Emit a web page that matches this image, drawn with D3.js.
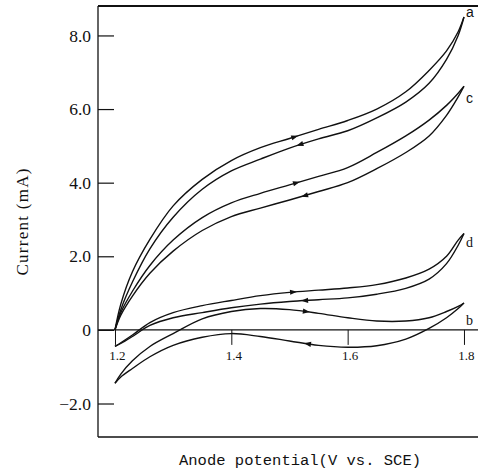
<!DOCTYPE html>
<html>
<head>
    <meta charset="utf-8" />
    <title>Cyclic voltammograms</title>
    <style>
        body { margin: 0; background: #fff; }
        svg { display: block; }
    </style>
    <script type="text/javascript" src="https://cdn.jsdelivr.net/npm/d3@7/dist/d3.min.js"></script>
</head>
<body>
    <div id="svg"></div>

    <script type="text/javascript">
        // potential grid (V vs. SCE), shared by every sweep
        var potential = [1.2, 1.21, 1.23, 1.26, 1.3, 1.35, 1.4, 1.45, 1.5, 1.55, 1.6, 1.65, 1.7, 1.74, 1.77, 1.79, 1.8];

        // current (mA), forward (anodic) and reverse sweeps
        var aForward = [0, 0.7, 1.58, 2.46, 3.37, 4.09, 4.6, 4.95, 5.2, 5.45, 5.69, 6.0, 6.47, 7.05, 7.58, 8.1, 8.5];
        var aReverse = [0, 0.55, 1.3, 2.2, 3.06, 3.82, 4.32, 4.64, 4.94, 5.19, 5.41, 5.76, 6.19, 6.7, 7.35, 8.0, 8.5];
        var cForward = [0, 0.47, 1.05, 1.75, 2.44, 3.05, 3.45, 3.71, 3.94, 4.17, 4.41, 4.82, 5.27, 5.7, 6.1, 6.43, 6.62];
        var cReverse = [0, 0.4, 0.92, 1.54, 2.14, 2.7, 3.08, 3.31, 3.53, 3.76, 4.0, 4.38, 4.82, 5.27, 5.83, 6.33, 6.62];
        var dForward = [-0.45, -0.35, -0.14, 0.2, 0.47, 0.66, 0.8, 0.93, 1.02, 1.08, 1.14, 1.23, 1.41, 1.65, 2.0, 2.44, 2.62];
        var dReverse = [-0.45, -0.37, -0.18, 0.12, 0.33, 0.47, 0.6, 0.7, 0.77, 0.82, 0.87, 0.97, 1.13, 1.38, 1.8, 2.3, 2.62];
        var bForward = [-1.45, -1.2, -0.84, -0.45, -0.1, 0.3, 0.5, 0.58, 0.55, 0.45, 0.33, 0.24, 0.24, 0.33, 0.5, 0.64, 0.73];
        var bReverse = [-1.45, -1.28, -1.05, -0.73, -0.42, -0.2, -0.1, -0.18, -0.3, -0.42, -0.47, -0.43, -0.25, 0.04, 0.33, 0.58, 0.73];

        var curveNames = ['a', 'c', 'd', 'b'];
        var forwardSweeps = [aForward, cForward, dForward, bForward];
        var reverseSweeps = [aReverse, cReverse, dReverse, bReverse];

        var yTicks = [-2, 0, 2, 4, 6, 8];
        var xTicks = [1.2, 1.4, 1.6, 1.8];

        var width = 478,
            height = 472,
            plotLeft = 98,
            plotTop = 6,
            plotBottom = 437;

        var svg = d3.select('#svg')
            .append('svg')
            .attr('width', width)
            .attr('height', height);

        var xScale = d3.scaleLinear()
            .domain([1.1708, 1.8241])
            .range([plotLeft, width]);

        var yScale = d3.scaleLinear()
            .domain([-2.91, 8.8])
            .range([plotBottom, plotTop]);

        // frame: left, top, bottom and the zero line
        var frame = svg.append('g').attr('stroke', '#111').attr('fill', 'none');
        frame.append('line').attr('x1', plotLeft).attr('x2', plotLeft).attr('y1', plotTop).attr('y2', plotBottom).attr('stroke-width', 1.3);
        frame.append('line').attr('x1', plotLeft).attr('x2', width).attr('y1', plotTop).attr('y2', plotTop).attr('stroke-width', 1.8);
        frame.append('line').attr('x1', plotLeft).attr('x2', width).attr('y1', plotBottom).attr('y2', plotBottom).attr('stroke-width', 1.5);
        frame.append('line').attr('x1', plotLeft).attr('x2', width).attr('y1', yScale(0)).attr('y2', yScale(0)).attr('stroke-width', 1.3);

        var yAxis = d3.axisLeft(yScale)
            .tickValues(yTicks)
            .tickSizeInner(-16)
            .tickSizeOuter(0)
            .tickPadding(7)
            .tickFormat(d => d === 0 ? '0' : d3.format('.1f')(d));

        var gY = svg.append('g')
            .attr('transform', 'translate(' + plotLeft + ',0)')
            .call(yAxis);
        gY.select('.domain').remove();
        gY.selectAll('line').attr('stroke', '#111').attr('stroke-width', 1.2);
        gY.selectAll('text')
            .attr('fill', '#111')
            .style('font-family', '"Liberation Serif", serif')
            .style('font-size', '17.5px');

        var xAxis = d3.axisBottom(xScale)
            .tickValues(xTicks)
            .tickSizeInner(15)
            .tickSizeOuter(0)
            .tickPadding(6)
            .tickFormat(d3.format('.1f'));

        var gX = svg.append('g')
            .attr('transform', 'translate(0,' + yScale(0) + ')')
            .call(xAxis);
        gX.select('.domain').remove();
        gX.selectAll('line').attr('stroke', '#111').attr('stroke-width', 1);
        gX.selectAll('text')
            .attr('fill', '#111')
            .attr('dx', 2)
            .style('font-family', '"Liberation Serif", serif')
            .style('font-size', '13px');

        // axis titles
        svg.append('text')
            .attr('transform', 'translate(22,222) rotate(-90)')
            .attr('text-anchor', 'middle')
            .attr('dominant-baseline', 'central')
            .attr('textLength', 107)
            .attr('fill', '#111')
            .style('font-family', '"Liberation Serif", serif')
            .style('font-size', '17px')
            .text('Current (mA)');

        svg.append('text')
            .attr('x', 300)
            .attr('y', 465)
            .attr('text-anchor', 'middle')
            .attr('textLength', 242)
            .attr('fill', '#111')
            .style('font-family', '"Liberation Mono", monospace')
            .style('font-size', '15.5px')
            .text('Anode potential(V vs. SCE)');

        var line = d3.line()
            .x(d => xScale(d[0]))
            .y(d => yScale(d[1]))
            .curve(d3.curveCatmullRom.alpha(0.5));

        var curves = svg.append('g');

        // place an arrow head on a drawn path where it passes potential v
        function arrowOn(path, v, toRight) {
            var node = path.node();
            var total = node.getTotalLength();
            var target = xScale(v);
            var lo = 0, hi = total;
            for (var i = 0; i < 30; i++) {
                var mid = (lo + hi) / 2;
                if (node.getPointAtLength(mid).x < target) lo = mid; else hi = mid;
            }
            var p = node.getPointAtLength(lo);
            var p0 = node.getPointAtLength(Math.max(lo - 2, 0));
            var p1 = node.getPointAtLength(Math.min(lo + 2, total));
            var angle = Math.atan2(p1.y - p0.y, p1.x - p0.x) * 180 / Math.PI;
            if (!toRight) angle += 180;
            curves.append('path')
                .attr('d', 'M0,0L-7,-2.6L-7,2.6Z')
                .attr('fill', '#111')
                .attr('transform', 'translate(' + p.x + ',' + p.y + ') rotate(' + angle + ')');
        }

        var arrowForward = [1.515, 1.518, 1.513, 1.535];
        var arrowReverse = [1.512, 1.52, 1.52, 1.525];
        var labelDy = [0, 17, 14, 22];

        curveNames.forEach(function(name, i) {
            var fwd = curves.append('path')
                .datum(potential.map((v, j) => [v, forwardSweeps[i][j]]))
                .attr('d', line)
                .attr('fill', 'none')
                .attr('stroke', '#111')
                .attr('stroke-width', 1.4);
            var rev = curves.append('path')
                .datum(potential.map((v, j) => [v, reverseSweeps[i][j]]))
                .attr('d', line)
                .attr('fill', 'none')
                .attr('stroke', '#111')
                .attr('stroke-width', 1.4);

            arrowOn(fwd, arrowForward[i], true);
            arrowOn(rev, arrowReverse[i], false);

            var tip = forwardSweeps[i][forwardSweeps[i].length - 1];
            svg.append('text')
                .attr('x', xScale(1.8) + 2)
                .attr('y', yScale(tip) + labelDy[i])
                .attr('fill', '#111')
                .style('font-family', (name === 'a' || name === 'c') ? '"Liberation Sans", sans-serif' : '"Liberation Serif", serif')
                .style('font-size', '14px')
                .text(name);
        });
    </script>
</body>
</html>
